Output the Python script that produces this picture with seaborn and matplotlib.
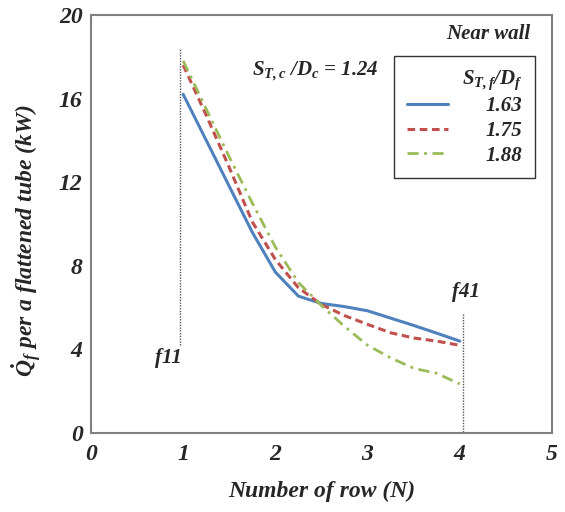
import matplotlib
matplotlib.use("Agg")
import matplotlib.pyplot as plt
import seaborn as sns
import pandas as pd

# rows along the flattened tube (N) and heat transfer per tube (kW)
rows = [1, 1.25, 1.5, 1.75, 2, 2.25, 2.5, 2.75, 3, 3.25, 3.5, 3.75, 4]
q_163 = [16.2, 14.0, 11.8, 9.6, 7.7, 6.55, 6.2, 6.05, 5.85, 5.5, 5.15, 4.78, 4.4]
q_175 = [17.6, 15.2, 12.7, 10.1, 8.3, 6.95, 6.15, 5.62, 5.2, 4.8, 4.55, 4.4, 4.2]
q_188 = [17.8, 15.5, 13.2, 11.0, 8.9, 7.2, 6.1, 5.1, 4.2, 3.6, 3.1, 2.86, 2.35]
ratios = ["1.63", "1.75", "1.88"]

df = pd.DataFrame({"N": rows * 3,
                   "Q": q_163 + q_175 + q_188,
                   "ratio": [r for r in ratios for _ in rows]})

sns.set_style("white")
plt.rcParams["font.family"] = ["Liberation Serif", "DejaVu Serif"]
plt.rcParams["font.weight"] = "bold"
plt.rcParams["font.style"] = "italic"
plt.rcParams["axes.labelweight"] = "bold"
plt.rcParams["mathtext.fontset"] = "custom"
plt.rcParams["mathtext.rm"] = "Liberation Serif:italic:bold"
plt.rcParams["mathtext.it"] = "Liberation Serif:italic:bold"
plt.rcParams["mathtext.bf"] = "Liberation Serif:italic:bold"

fig, ax = plt.subplots(figsize=(5.65, 5.12), dpi=100)
fig.subplots_adjust(left=0.161, right=0.977, top=0.971, bottom=0.154)

colors = {"1.63": "#4F81BD", "1.75": "#C0504D", "1.88": "#9BBB59"}
dashes = {"1.63": "", "1.75": (2.5, 1.5), "1.88": (4, 2, 1, 2)}
widths = {"1.63": 2.2, "1.75": 2.2, "1.88": 2.0}
for r in ratios:
    sub = df[df["ratio"] == r]
    sns.lineplot(data=sub, x="N", y="Q", ax=ax, color=colors[r],
                 lw=widths[r], dashes=False, label=r)
    if dashes[r]:
        ax.lines[-1].set_dashes(dashes[r])

# dotted markers for f11 and f41
ax.plot([0.97, 0.97], [4.2, 18.4], color="#555555", lw=1, ls=(0, (1, 1)))
ax.plot([4.03, 4.03], [0.05, 5.75], color="#555555", lw=1, ls=(0, (1, 1)))
ax.text(0.84, 3.6, "f11", fontsize=15, ha="center", va="center")
ax.text(4.07, 6.75, "f41", fontsize=15, ha="center", va="center")
ax.text(2.43, 17.3, r"$S_{T,c}$ /$D_c$ = 1.24", fontsize=15, ha="center", va="center")
ax.text(0.953, 0.955, "Near wall", fontsize=15, ha="right", va="center",
        transform=ax.transAxes)

leg = ax.legend(title=r"$S_{T,f}$/$D_f$", loc="upper right",
                bbox_to_anchor=(0.963, 0.902), borderaxespad=0,
                fontsize=15, title_fontsize=15,
                frameon=True, fancybox=False, edgecolor="black",
                handlelength=2.0, handletextpad=1.8, borderpad=0.6,
                labelspacing=0.22, alignment="right")
leg.get_frame().set_linewidth(1.0)

ax.set_xlim(0, 5)
ax.set_ylim(0, 20)
ax.set_xticks([0, 1, 2, 3, 4, 5])
ax.set_yticks([0, 4, 8, 12, 16, 20])
ax.set_xlabel("Number of row (N)", fontsize=17, labelpad=11)
ax.set_ylabel(r"$\dot{Q}_f$ per a flattened tube (kW)", fontsize=17)
ax.yaxis.set_label_coords(-0.105, 0.46)
ax.tick_params(axis="x", direction="in", length=5, color="#808080",
               labelsize=17, pad=8)
ax.tick_params(axis="y", direction="in", length=5, color="#808080",
               labelsize=17, pad=6)
for s in ax.spines.values():
    s.set_color("#808080")
    s.set_linewidth(1.5)
    s.set_visible(True)

fig.savefig("out.png", dpi=100)
